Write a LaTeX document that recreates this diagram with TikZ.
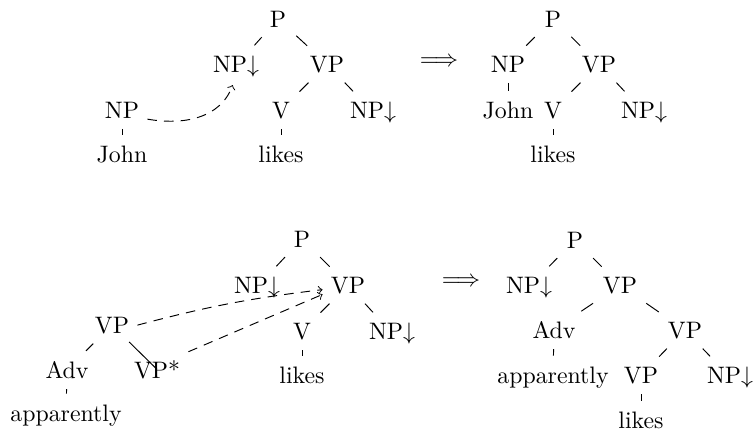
\documentclass[tikz,border=0pt]{standalone}
\usepackage{tikz}
\usetikzlibrary{arrows}

\begin{document}
\begin{tikzpicture}[x=0.42pt, y=-0.42pt]

    % Define styles
    \tikzstyle{word} = [anchor=base]
    \tikzstyle{branch} = [draw, shorten <=1pt, shorten >=1pt]
    \tikzstyle{subst} = [draw, dash pattern=on 4pt off 3pt, ->]

    \useasboundingbox (0,0) rectangle (753,435);

    % Substitution: elementary trees
    \node [word] at (278,27) (p1) {P};
    \node [word] at (236,72) (npd1) {NP$\downarrow$};
    \node [word] at (327,72) (vp1) {VP};
    \node [word] at (281,118) (v1) {V};
    \node [word] at (373,118) (npe1) {NP$\downarrow$};
    \node [word] at (281,162) (likes1) {likes};
    \node [word] at (122,118) (np1) {NP};
    \node [word] at (122,162) (john1) {John};

    % Substitution: derived tree
    \node at (439,62) (to1) {$\Longrightarrow$};
    \node [word] at (553,27) (p2) {P};
    \node [word] at (508,72) (np2) {NP};
    \node [word] at (599,72) (vp2) {VP};
    \node [word] at (508,118) (john2) {John};
    \node [word] at (553,118) (v2) {V};
    \node [word] at (644,118) (npe2) {NP$\downarrow$};
    \node [word] at (553,162) (likes2) {likes};

    % Adjunction: elementary trees
    \node [word] at (302,247) (p3) {P};
    \node [word] at (257,293) (npd3) {NP$\downarrow$};
    \node [word] at (348,293) (vp3) {VP};
    \node [word] at (302,339) (v3) {V};
    \node [word] at (392,339) (npe3) {NP$\downarrow$};
    \node [word] at (302,383) (likes3) {likes};
    \node [word] at (112,333) (vpa) {VP};
    \node [word] at (67,378) (adva) {Adv};
    \node [word] at (157,378) (vpstar) {VP*};
    \node [word] at (66,421) (appa) {apparently};

    % Adjunction: derived tree
    \node at (461,282) (to2) {$\Longrightarrow$};
    \node [word] at (575,248) (p4) {P};
    \node [word] at (529,293) (npd4) {NP$\downarrow$};
    \node [word] at (620,293) (vp4) {VP};
    \node [word] at (554,338) (adv4) {Adv};
    \node [word] at (685,338) (vpb4) {VP};
    \node [word] at (553,383) (app4) {apparently};
    \node [word] at (641,383) (vpc4) {VP};
    \node [word] at (730,383) (npe4) {NP$\downarrow$};
    \node [word] at (641,428) (likes4) {likes};

    % Draw edges
    \path [branch] (p1) -- (npd1);
    \path [branch] (p1) -- (vp1);
    \path [branch] (vp1) -- (v1);
    \path [branch] (vp1) -- (npe1);
    \path [branch] (v1) -- (likes1);
    \path [branch] (np1) -- (john1);

    \path [branch] (p2) -- (np2);
    \path [branch] (p2) -- (vp2);
    \path [branch] (np2) -- (john2);
    \path [branch] (vp2) -- (v2);
    \path [branch] (vp2) -- (npe2);
    \path [branch] (v2) -- (likes2);

    \path [branch] (p3) -- (npd3);
    \path [branch] (p3) -- (vp3);
    \path [branch] (vp3) -- (v3);
    \path [branch] (vp3) -- (npe3);
    \path [branch] (v3) -- (likes3);
    \path [branch] (vpa) -- (adva);
    \draw (vpa) -- (vpstar.center);
    \path [branch] (adva) -- (appa);

    \path [branch] (p4) -- (npd4);
    \path [branch] (p4) -- (vp4);
    \path [branch] (vp4) -- (adv4);
    \path [branch] (vp4) -- (vpb4);
    \path [branch] (adv4) -- (app4);
    \path [branch] (vpb4) -- (vpc4);
    \path [branch] (vpb4) -- (npe4);
    \path [branch] (vpc4) -- (likes4);

    % Substitution and adjunction sites
    \path [subst] (np1.-20) to [out=-10, in=-110] (npd1.-100);
    \path [subst] (vpa.east) to [bend left=4] (vp3.190);
    \path [subst] (vpstar.north east) -- (vp3.200);

\end{tikzpicture}
\end{document}
